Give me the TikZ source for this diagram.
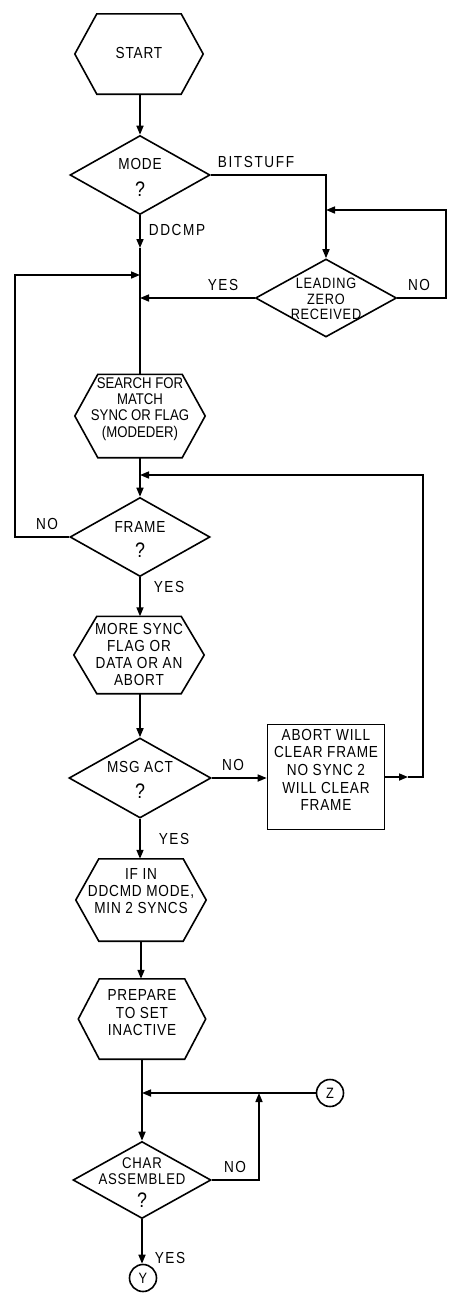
\documentclass[tikz,border=0pt]{standalone}
\usepackage{fontspec}
\setmainfont{Liberation Sans}[FakeStretch=0.85,LetterSpace=5]
\newfontfamily\lblfont{Liberation Sans}[FakeStretch=0.85,LetterSpace=10]
\newfontfamily\tightfont{Liberation Sans}[FakeStretch=0.85,LetterSpace=0]
\usetikzlibrary{shapes.geometric,arrows.meta,calc}
\newcommand\drawhexagon[2]{%
  \draw[hexline] (#1.north west) -- (#1.north east) -- ([xshift=#2]#1.east)
    -- (#1.south east) -- (#1.south west) -- ([xshift=-#2]#1.west) -- cycle;}
\tikzset{
  hexbox/.style={rectangle, draw=none, inner sep=0pt, minimum width=84pt, minimum height=80pt},
  hexline/.style={draw, line width=1.6pt, line join=miter},
  dia/.style={diamond, draw, line width=1.6pt, inner sep=0pt, minimum width=140pt, minimum height=79pt},
  boxnode/.style={rectangle, draw, line width=1.6pt, inner sep=0pt, minimum width=117pt, minimum height=105pt},
  circ/.style={circle, draw, line width=1.6pt, inner sep=0pt, minimum size=27pt, font=\fontsize{15}{16}\selectfont},
  txt/.style={align=center, inner sep=0pt, font=\fontsize{16}{17}\selectfont},
  lbl/.style={inner sep=0pt, font=\lblfont\fontsize{16}{17}\selectfont},
  conn/.style={draw, line width=1.6pt},
  arr/.style={conn, -{Triangle[length=9pt,width=7pt]}},
}
\newcommand\qm{{\fontsize{21}{17}\selectfont ?}}
\begin{document}
\begin{tikzpicture}[x=1pt,y=-1pt]
\useasboundingbox (0,0) rectangle (449,1293);

% nodes
\node[hexbox] (start) at (139,54) {};
\node[txt] (starttext) at (139,53) {START};
\drawhexagon{start}{22pt}

\node[dia] (mode) at (140,175) {};
\node[txt] (modetext) at (140,177) {MODE\\[10pt]\qm};

\node[dia, minimum width=141pt, minimum height=78pt] (lead) at (326,298) {};
\node[txt, font=\fontsize{15}{15.5}\selectfont] (leadtext) at (326,299) {LEADING\\ZERO\\RECEIVED};

\node[hexbox, minimum height=83pt] (search) at (140,416) {};
\node[txt, font=\tightfont\fontsize{15.5}{16.3}\selectfont] (searchtext) at (140,409) {SEARCH FOR\\MATCH\\SYNC OR FLAG\\(MODEDER)};
\drawhexagon{search}{23pt}

\node[dia] (frame) at (140,537) {};
\node[txt] (frametext) at (140,539) {FRAME\\[8pt]\qm};

\node[hexbox, minimum width=84pt, minimum height=77pt] (more) at (139,655) {};
\node[txt] (moretext) at (139,654) {MORE SYNC\\FLAG OR\\DATA OR AN\\ABORT};
\drawhexagon{more}{23pt}

\node[dia, minimum width=142pt, minimum height=80pt] (msg) at (140,778) {};
\node[txt] (msgtext) at (140,780) {MSG ACT\\[9pt]\qm};

\node[boxnode] (abort) at (326,777) {};
\node[txt, font=\fontsize{16}{17.6}\selectfont] (aborttext) at (326,770) {ABORT WILL\\CLEAR FRAME\\NO SYNC 2\\WILL CLEAR\\FRAME};

\node[hexbox, minimum height=82pt] (ifin) at (141,900) {};
\node[txt] (ifintext) at (141,891) {IF IN\\DDCMD MODE,\\MIN 2 SYNCS};
\drawhexagon{ifin}{23pt}

\node[hexbox, minimum width=85pt] (prep) at (142,1019) {};
\node[txt, font=\fontsize{16}{17.5}\selectfont] (preptext) at (142,1013) {PREPARE\\TO SET\\INACTIVE};
\drawhexagon{prep}{21pt}

\node[dia, minimum width=138pt, minimum height=77pt] (char) at (142,1180) {};
\node[txt, font=\fontsize{15.5}{15.5}\selectfont] (chartext) at (142,1183) {CHAR\\ASSEMBLED\\[8pt]\qm};

\node[circ] (y) at (143,1278) {Y};
\node[circ] (z) at (330,1093) {Z};

% coordinates
\coordinate (bj) at (326,210);
\coordinate (rloop) at (446,210);
\coordinate (dd) at (140,248);
\coordinate (j1) at (140,275);
\coordinate (lloop) at (15,275);
\coordinate (j2) at (140,475);
\coordinate (am) at (408,777);
\coordinate (aloop) at (423,475);
\coordinate (j3) at (142,1093);
\coordinate (cn) at (259,1093);

% connectors
\draw[arr] (start.south -| mode.north) -- (mode.north);
\draw[arr] (mode.east) -| (lead.north);
\draw[arr] (lead.east) -| (rloop) -- (bj);
\draw[arr] (mode.south) -- (dd);
\draw[conn] (dd) -- (search.north);
\draw[arr] (lead.west) -- (lead.west -| search.north);
\draw[arr] (frame.west) -| (lloop) -- (j1);
\draw[conn] (search.south) -- (j2);
\draw[arr] (j2) -- (frame.north);
\draw[arr] (frame.south) -- (frame.south |- more.north);
\draw[arr] (more.south -| msg.north) -- (msg.north);
\draw[arr] (msg.east) -- (msg.east -| abort.west);
\draw[arr] (abort.east) -- (am);
\draw[arr] (am) -| (aloop) -- (j2);
\draw[arr] (msg.south) -- (msg.south |- ifin.north);
\draw[arr] (ifin.south) -- (ifin.south |- prep.north);
\draw[conn] (prep.south) -- (j3);
\draw[arr] (j3) -- (char.north);
\draw[arr] (z.west) -- (j3);
\draw[arr] (char.east) -| (cn);
\draw[arr] (char.south) -- (char.south |- y.north);

% labels
\node[lbl] (lbitstuff) at (256,162) {BITSTUFF};
\node[lbl] (lddcmp) at (177,230) {DDCMP};
\node[lbl] (lyes1) at (223,285) {YES};
\node[lbl] (lno1) at (419,285) {NO};
\node[lbl] (lno2) at (47,524) {NO};
\node[lbl] (lyes2) at (169,587) {YES};
\node[lbl] (lno3) at (233,765) {NO};
\node[lbl] (lyes3) at (174,839) {YES};
\node[lbl] (lno4) at (235,1167) {NO};
\node[lbl] (lyes4) at (170,1258) {YES};
\end{tikzpicture}
\end{document}
